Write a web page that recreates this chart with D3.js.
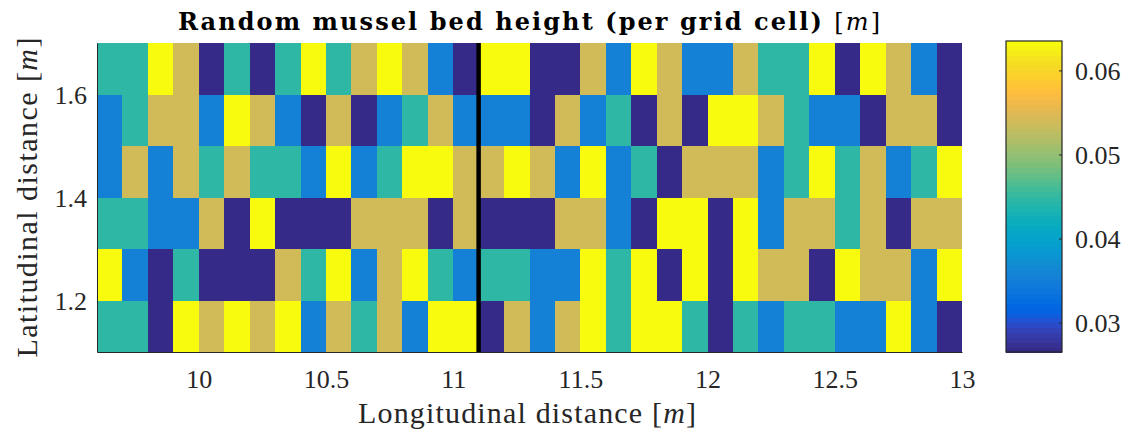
<!DOCTYPE html>
<html>
<head>
<meta charset="utf-8">
<script src="https://cdn.jsdelivr.net/npm/d3@7"></script>
<style>
  html, body { margin: 0; padding: 0; background: #fff; }
  svg { display: block; font-family: "Liberation Serif", "Times New Roman", serif; }
  svg text { font-family: "Liberation Serif", "Times New Roman", serif; }
  svg text.title { font-family: "DejaVu Serif", "Liberation Serif", serif; }
</style>
</head>
<body>
<svg id="chart" width="1127" height="434"></svg>
<script>
// ---- data -------------------------------------------------------------
// Grid of mussel bed heights [m]; cells are 0.1 m x 0.1 m.
const lonStart = 9.6;
const cellSize = 0.1;
const latRows = [1.1, 1.2, 1.3, 1.4, 1.5, 1.6];   // lower edge of each row

// one array per row, west -> east (34 cells from 9.6 to 13.0 m)
const hLat11 = [0.0447,0.0447,0.0265,0.0635,0.054,0.0635,0.054,0.0635,0.0355,0.054,0.0447,0.054,0.0355,0.0635,0.0635,0.0265,0.054,0.0355,0.054,0.0635,0.0447,0.0635,0.0635,0.0447,0.0265,0.0447,0.0355,0.0447,0.0447,0.0355,0.0355,0.0635,0.0355,0.0265];
const hLat12 = [0.0635,0.0355,0.0265,0.0447,0.0265,0.0265,0.0265,0.054,0.0447,0.0635,0.0355,0.054,0.0635,0.0447,0.0355,0.0447,0.0447,0.0355,0.0355,0.0635,0.0447,0.0635,0.0265,0.0635,0.0265,0.0635,0.054,0.054,0.0265,0.0635,0.054,0.054,0.0355,0.0635];
const hLat13 = [0.0447,0.0447,0.0355,0.0355,0.054,0.0265,0.0635,0.0265,0.0265,0.0265,0.054,0.054,0.054,0.0265,0.054,0.0265,0.0265,0.0265,0.054,0.054,0.0355,0.0265,0.0635,0.0635,0.0265,0.0635,0.0355,0.054,0.054,0.0447,0.054,0.0265,0.054,0.054];
const hLat14 = [0.0355,0.054,0.0355,0.054,0.0447,0.054,0.0447,0.0447,0.0355,0.0635,0.0355,0.0447,0.0635,0.0635,0.054,0.054,0.0635,0.054,0.0355,0.0635,0.0355,0.0447,0.0265,0.054,0.054,0.054,0.0355,0.0447,0.0635,0.0447,0.054,0.0355,0.0447,0.0635];
const hLat15 = [0.0355,0.0447,0.054,0.054,0.0355,0.0635,0.054,0.0355,0.0265,0.054,0.0265,0.0355,0.0447,0.054,0.0355,0.0355,0.0355,0.0265,0.054,0.0355,0.0447,0.0265,0.054,0.0265,0.0635,0.0635,0.054,0.0447,0.0355,0.0355,0.0265,0.054,0.054,0.0265];
const hLat16 = [0.0447,0.0447,0.0635,0.054,0.0265,0.0447,0.0265,0.0447,0.0635,0.0447,0.054,0.0635,0.054,0.0355,0.0265,0.0635,0.0635,0.0265,0.0265,0.054,0.0355,0.0635,0.054,0.0355,0.0355,0.054,0.0447,0.0447,0.0635,0.0265,0.0635,0.054,0.0355,0.0265];
const heightRows = [hLat11, hLat12, hLat13, hLat14, hLat15, hLat16];

const colorLimits = [0.0265, 0.0635];
const xDomain = [9.6, 13.0];
const yDomain = [1.1, 1.7];
const xTicks = [10, 10.5, 11, 11.5, 12, 12.5, 13];
const yTicks = [1.2, 1.4, 1.6];
const cbTicks = [0.03, 0.04, 0.05, 0.06];
const sectionLon = 11.1;

// parula colormap, 64 entries
const parula = [
[0.2081,0.1663,0.5292],[0.2116,0.1898,0.5777],[0.2123,0.2138,0.6270],[0.2081,0.2386,0.6771],
[0.1959,0.2645,0.7279],[0.1707,0.2919,0.7792],[0.1253,0.3242,0.8303],[0.0591,0.3598,0.8683],
[0.0117,0.3875,0.8820],[0.0060,0.4086,0.8828],[0.0165,0.4266,0.8786],[0.0329,0.4430,0.8720],
[0.0498,0.4586,0.8641],[0.0629,0.4737,0.8554],[0.0723,0.4887,0.8467],[0.0779,0.5040,0.8384],
[0.0793,0.5200,0.8312],[0.0749,0.5375,0.8263],[0.0641,0.5570,0.8240],[0.0488,0.5772,0.8228],
[0.0343,0.5966,0.8199],[0.0265,0.6137,0.8135],[0.0239,0.6287,0.8038],[0.0231,0.6418,0.7913],
[0.0228,0.6535,0.7768],[0.0267,0.6642,0.7607],[0.0384,0.6743,0.7436],[0.0590,0.6838,0.7254],
[0.0843,0.6928,0.7062],[0.1133,0.7015,0.6859],[0.1453,0.7098,0.6646],[0.1801,0.7177,0.6424],
[0.2178,0.7250,0.6193],[0.2586,0.7317,0.5954],[0.3022,0.7376,0.5712],[0.3482,0.7424,0.5473],
[0.3953,0.7459,0.5244],[0.4420,0.7481,0.5033],[0.4871,0.7491,0.4840],[0.5300,0.7491,0.4661],
[0.5709,0.7485,0.4494],[0.6099,0.7473,0.4337],[0.6473,0.7456,0.4188],[0.6834,0.7435,0.4044],
[0.7184,0.7411,0.3905],[0.7525,0.7384,0.3768],[0.7858,0.7356,0.3633],[0.8185,0.7327,0.3498],
[0.8507,0.7299,0.3360],[0.8824,0.7274,0.3217],[0.9139,0.7258,0.3063],[0.9450,0.7261,0.2886],
[0.9739,0.7314,0.2666],[0.9938,0.7455,0.2403],[0.9990,0.7653,0.2164],[0.9955,0.7861,0.1967],
[0.9880,0.8066,0.1794],[0.9789,0.8271,0.1633],[0.9697,0.8481,0.1475],[0.9626,0.8705,0.1309],
[0.9589,0.8949,0.1132],[0.9598,0.9218,0.0948],[0.9661,0.9514,0.0755],[0.9763,0.9831,0.0538]
].map(c => d3.rgb(c[0]*255, c[1]*255, c[2]*255).formatHex());

// ---- layout -----------------------------------------------------------
const plot = { left: 97, right: 962, top: 43, bottom: 352 };
const cbar = { left: 1006, right: 1062, top: 41, bottom: 352 };
const axisColor = "#262626";
const serif = "'Liberation Serif', 'Times New Roman', serif";

const svg = d3.select("#chart");
const x = d3.scaleLinear().domain(xDomain).range([plot.left, plot.right]);
const y = d3.scaleLinear().domain(yDomain).range([plot.bottom, plot.top]);
const color = d3.scaleQuantize().domain(colorLimits).range(parula);

// ---- cells ------------------------------------------------------------
const cells = [];
heightRows.forEach((row, r) => {
  row.forEach((h, c) => {
    cells.push({ lon: lonStart + c * cellSize, lat: latRows[r], h });
  });
});

svg.append("g")
  .attr("shape-rendering", "crispEdges")
  .selectAll("rect")
  .data(cells)
  .join("rect")
  .attr("x", d => x(d.lon))
  .attr("y", d => y(d.lat + cellSize))
  .attr("width", d => x(d.lon + cellSize) - x(d.lon))
  .attr("height", d => y(d.lat) - y(d.lat + cellSize))
  .attr("fill", d => color(d.h));

// section boundary
svg.append("line")
  .attr("x1", x(sectionLon)).attr("x2", x(sectionLon))
  .attr("y1", y(yDomain[1])).attr("y2", y(yDomain[0]))
  .attr("stroke", "#000").attr("stroke-width", 4.5);

// ---- axes -------------------------------------------------------------
const xAxis = d3.axisBottom(x).tickValues(xTicks).tickSize(0).tickPadding(16)
  .tickFormat(d3.format("~g"));
const gx = svg.append("g").attr("transform", `translate(0,${plot.bottom})`).call(xAxis)
  .attr("font-family", serif).attr("font-size", 26);
gx.select(".domain").attr("stroke", axisColor);
gx.selectAll("text").attr("fill", axisColor).attr("dy", null).attr("y", 36);

const yAxis = d3.axisLeft(y).tickValues(yTicks).tickSize(0).tickPadding(10)
  .tickFormat(d3.format(".1f"));
const gy = svg.append("g").attr("transform", `translate(${plot.left},0)`).call(yAxis)
  .attr("font-family", serif).attr("font-size", 26);
gy.select(".domain").attr("stroke", axisColor);
gy.selectAll("text").attr("fill", axisColor).attr("dy", null).attr("y", 9);

// axis titles
const xLabel = svg.append("text")
  .attr("x", 527).attr("y", 423)
  .attr("text-anchor", "middle").attr("font-size", 30).attr("fill", axisColor)
  .attr("textLength", 338).attr("lengthAdjust", "spacing");
xLabel.append("tspan").text("Longitudinal distance [");
xLabel.append("tspan").attr("font-style", "italic").text("m");
xLabel.append("tspan").text("]");

const yLabel = svg.append("text")
  .attr("transform", `translate(37,${(plot.top + plot.bottom) / 2}) rotate(-90)`)
  .attr("text-anchor", "middle").attr("font-size", 30).attr("fill", axisColor)
  .attr("textLength", 320).attr("lengthAdjust", "spacing");
yLabel.append("tspan").text("Latitudinal distance [");
yLabel.append("tspan").attr("font-style", "italic").text("m");
yLabel.append("tspan").text("]");

// chart title
const title = svg.append("text")
  .attr("class", "title")
  .attr("x", 529).attr("y", 30)
  .attr("text-anchor", "middle").attr("font-size", 24).attr("fill", "#000")
  .attr("textLength", 702).attr("lengthAdjust", "spacing");
title.append("tspan").attr("font-weight", "bold").text("Random mussel bed height (per grid cell) ");
title.append("tspan").text("[");
title.append("tspan").attr("font-style", "italic").text("m");
title.append("tspan").text("]");

// ---- colorbar ---------------------------------------------------------
const cb = d3.scaleLinear().domain(colorLimits).range([cbar.bottom, cbar.top]);
const step = (colorLimits[1] - colorLimits[0]) / parula.length;
svg.append("g")
  .attr("shape-rendering", "crispEdges")
  .selectAll("rect")
  .data(parula)
  .join("rect")
  .attr("x", cbar.left)
  .attr("width", cbar.right - cbar.left)
  .attr("y", (c, i) => cb(colorLimits[0] + (i + 1) * step))
  .attr("height", (c, i) => cb(colorLimits[0] + i * step) - cb(colorLimits[0] + (i + 1) * step) + 0.5)
  .attr("fill", c => c);

svg.append("rect")
  .attr("x", cbar.left).attr("y", cbar.top)
  .attr("width", cbar.right - cbar.left).attr("height", cbar.bottom - cbar.top)
  .attr("fill", "none").attr("stroke", axisColor).attr("stroke-width", 1.2);

const cbAxis = d3.axisRight(cb).tickValues(cbTicks).tickSize(-3).tickPadding(13)
  .tickFormat(d3.format(".2f"));
const gcb = svg.append("g").attr("transform", `translate(${cbar.right},0)`).call(cbAxis)
  .attr("font-family", serif).attr("font-size", 26);
gcb.select(".domain").remove();
gcb.selectAll(".tick line").attr("stroke", axisColor);
gcb.selectAll("text").attr("fill", axisColor).attr("dy", null).attr("y", 9);
</script>
</body>
</html>
